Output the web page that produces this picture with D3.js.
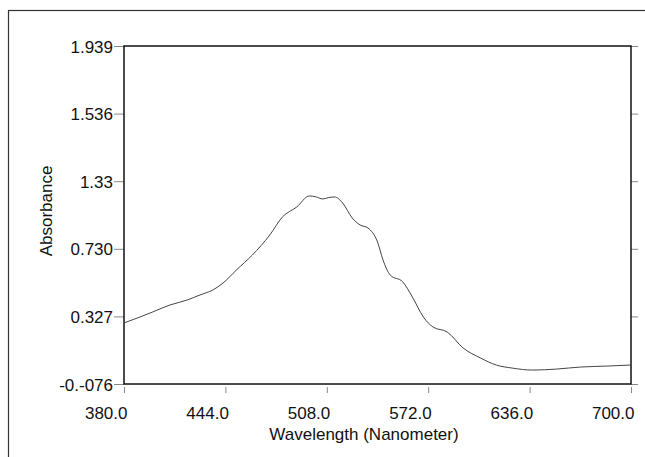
<!DOCTYPE html>
<html>
<head>
<meta charset="utf-8">
<script src="https://cdn.jsdelivr.net/npm/d3@7"></script>
<style>
	body { margin: 0; background: #fff; }
	text { font-family: "Liberation Sans", Arial, sans-serif; fill: #111; }
</style>
</head>
<body>
<div id="chart"></div>
<script>
// spectrum
const wavelength = [380, 390, 398, 409, 420, 428, 436, 442.5, 451, 461, 472, 480, 489, 497, 501, 505.5, 509, 513, 518, 524, 529, 534, 540, 543.5, 548, 556, 562, 569, 575, 584, 594, 605, 615, 625, 638, 653, 668, 685, 700];
const absorbance = [0.288, 0.323, 0.353, 0.395, 0.425, 0.455, 0.484, 0.526, 0.604, 0.693, 0.812, 0.920, 0.979, 1.045, 1.040, 1.027, 1.035, 1.039, 1.003, 0.914, 0.872, 0.854, 0.771, 0.663, 0.574, 0.532, 0.443, 0.323, 0.264, 0.234, 0.139, 0.079, 0.037, 0.019, 0.007, 0.013, 0.025, 0.031, 0.037];

const yTicks = [-0.076, 0.327, 0.730, 1.133, 1.536, 1.939];
const yTickLabels = ['-0.-076', '0.327', '0.730', '1.33', '1.536', '1.939'];
const xTicks = [380, 444, 508, 572, 636, 700];
const xTickLabels = ['380.0', '444.0', '508.0', '572.0', '636.0', '700.0'];

const W = 645, H = 457;
const plot = { left: 124, right: 631, top: 46, bottom: 384 };

const svg = d3.select('#chart').append('svg')
	.attr('width', W)
	.attr('height', H);

// outer frame (runs off the right and bottom edge)
svg.append('rect')
	.attr('x', 8.5).attr('y', 10.5)
	.attr('width', 700).attr('height', 500)
	.attr('fill', 'none')
	.attr('stroke', '#333')
	.attr('stroke-width', 1.2);

const x = d3.scaleLinear().domain([380, 700]).range([plot.left, plot.right]);
const y = d3.scaleLinear().domain([-0.076, 1.939]).range([plot.bottom, plot.top]);

// left axis
const yAxis = svg.append('g')
	.attr('transform', `translate(${plot.left},0)`)
	.call(d3.axisLeft(y).tickValues(yTicks).tickSize(10).tickPadding(1)
		.tickFormat((d, i) => yTickLabels[i]));
yAxis.select('.domain').remove();
yAxis.selectAll('line').attr('stroke', '#888');
yAxis.selectAll('text').style('font-size', '17px').attr('dy', '0.36em');

// right side ticks
const yRight = svg.append('g')
	.attr('transform', `translate(${plot.right},0)`)
	.call(d3.axisRight(y).tickValues(yTicks).tickSize(7).tickFormat(''));
yRight.select('.domain').remove();
yRight.selectAll('line').attr('stroke', '#888');

// bottom axis, labels sit just left of their tick
const xAxis = svg.append('g')
	.attr('transform', `translate(0,${plot.bottom + 3})`)
	.call(d3.axisBottom(x).tickValues(xTicks).tickSize(6)
		.tickFormat((d, i) => xTickLabels[i]));
xAxis.select('.domain').remove();
xAxis.selectAll('line').attr('stroke', '#888');
xAxis.selectAll('text')
	.style('font-size', '17px')
	.attr('text-anchor', 'end')
	.attr('x', 3)
	.attr('y', 32)
	.attr('dy', 0);

// plot frame
svg.append('rect')
	.attr('x', plot.left).attr('y', plot.top)
	.attr('width', plot.right - plot.left)
	.attr('height', plot.bottom - plot.top)
	.attr('fill', 'none')
	.attr('stroke', '#111')
	.attr('stroke-width', 1.5);

const line = d3.line()
	.x((d, i) => x(wavelength[i]))
	.y(d => y(d))
	.curve(d3.curveMonotoneX);

svg.append('path')
	.datum(absorbance)
	.attr('d', line)
	.attr('fill', 'none')
	.attr('stroke', '#444')
	.attr('stroke-width', 1);

svg.append('text')
	.attr('x', 364)
	.attr('y', 440)
	.attr('text-anchor', 'middle')
	.style('font-size', '17px')
	.text('Wavelength (Nanometer)');

svg.append('text')
	.attr('transform', 'translate(52,211) rotate(-90)')
	.attr('text-anchor', 'middle')
	.style('font-size', '17px')
	.text('Absorbance');
</script>
</body>
</html>
